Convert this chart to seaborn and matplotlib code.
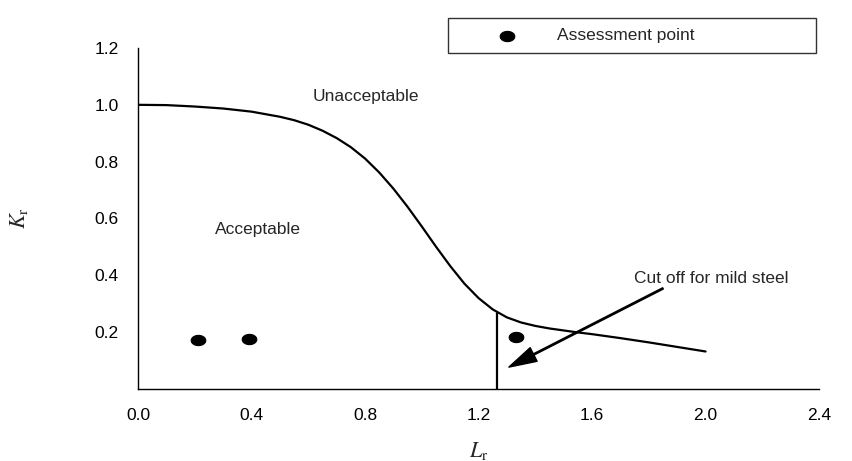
import numpy as np
import pandas as pd
import matplotlib
matplotlib.use('Agg')
import matplotlib.pyplot as plt
import seaborn as sns
from matplotlib.path import Path

# FAD curve
lr = [0.0, 0.1, 0.2, 0.3, 0.4, 0.5, 0.55, 0.6, 0.65, 0.7, 0.75, 0.8, 0.85, 0.9,
      0.95, 1.0, 1.05, 1.1, 1.15, 1.2, 1.25, 1.3, 1.35, 1.4, 1.45, 1.5, 1.55,
      1.6, 1.7, 1.8, 1.9, 2.0]
kr = [1.0, 0.999, 0.994, 0.987, 0.976, 0.958, 0.946, 0.930, 0.909, 0.883, 0.851,
      0.811, 0.762, 0.705, 0.641, 0.572, 0.501, 0.433, 0.371, 0.320, 0.280,
      0.252, 0.234, 0.222, 0.213, 0.206, 0.199, 0.193, 0.179, 0.164, 0.148, 0.132]

# assessment points
pt_lr = [0.211, 0.391, 1.332]
pt_kr = [0.172, 0.175, 0.182]

# cut off for mild steel
cut_lr = [1.265, 1.265]
cut_kr = [0.0, 0.266]

curve = pd.DataFrame({'Lr': lr, 'Kr': kr})
points = pd.DataFrame({'Lr': pt_lr, 'Kr': pt_kr})

sns.set_style('white')
plt.rcParams['font.family'] = ['Liberation Sans', 'DejaVu Sans']
plt.rcParams['mathtext.fontset'] = 'stix'

fig = plt.figure(figsize=(8.53, 4.61), dpi=100)
ax = fig.add_axes([0.1618, 0.1562, 0.7984, 0.7397])

sns.lineplot(data=curve, x='Lr', y='Kr', color='black', linewidth=1.6, ax=ax)
ax.plot(cut_lr, cut_kr, color='black', linewidth=1.6)

# ellipse-shaped marker (wider than tall)
t = np.linspace(0, 2 * np.pi, 40)
ell = Path(np.column_stack([np.cos(t), 0.7 * np.sin(t)]), closed=True)
sns.scatterplot(data=points, x='Lr', y='Kr', marker=ell, s=110, color='black',
                edgecolor='black', label='Assessment point', ax=ax, zorder=3)

ax.annotate('', xy=(1.307, 0.077), xytext=(1.85, 0.354),
            arrowprops=dict(facecolor='black', edgecolor='black', width=1.0,
                            headwidth=11, headlength=20, shrink=0))

ax.text(0.804, 1.03, 'Unacceptable', fontsize=12.5, ha='center', va='center')
ax.text(0.424, 0.56, 'Acceptable', fontsize=12.5, ha='center', va='center')
ax.text(2.02, 0.39, 'Cut off for mild steel', fontsize=12.5, ha='center',
        va='center', clip_on=False)

ax.set_xlim(0, 2.4)
ax.set_ylim(0, 1.2)
ax.set_xticks(np.arange(0, 2.41, 0.4))
ax.set_yticks(np.arange(0.2, 1.21, 0.2))
ax.set_xticklabels([f'{v:.1f}' for v in np.arange(0, 2.41, 0.4)])
ax.set_yticklabels([f'{v:.1f}' for v in np.arange(0.2, 1.21, 0.2)])
ax.tick_params(axis='x', direction='in', length=5, width=1, pad=14, labelsize=12.5)
ax.tick_params(axis='y', direction='out', length=6, width=1, pad=8, labelsize=12.5)
ax.tick_params(axis='both', colors='black')

sns.despine(ax=ax)
for s in ['left', 'bottom']:
    ax.spines[s].set_color('black')
    ax.spines[s].set_linewidth(1)

ax.set_xlabel(r'$L_\mathrm{r}$', fontsize=16, labelpad=12)
ax.set_ylabel(r'$K_\mathrm{r}$', fontsize=16, labelpad=46)

leg = ax.legend(loc='center', bbox_to_anchor=(448 / 853, 1 - 56 / 461, 368 / 853, 41 / 461),
                bbox_transform=fig.transFigure, mode='expand', frameon=True,
                fancybox=False, edgecolor='black', fontsize=12.5,
                handlelength=5.6, handletextpad=0.1, borderpad=0.6, borderaxespad=0)
leg.get_frame().set_linewidth(1)

fig.savefig('out.png', dpi=100)
